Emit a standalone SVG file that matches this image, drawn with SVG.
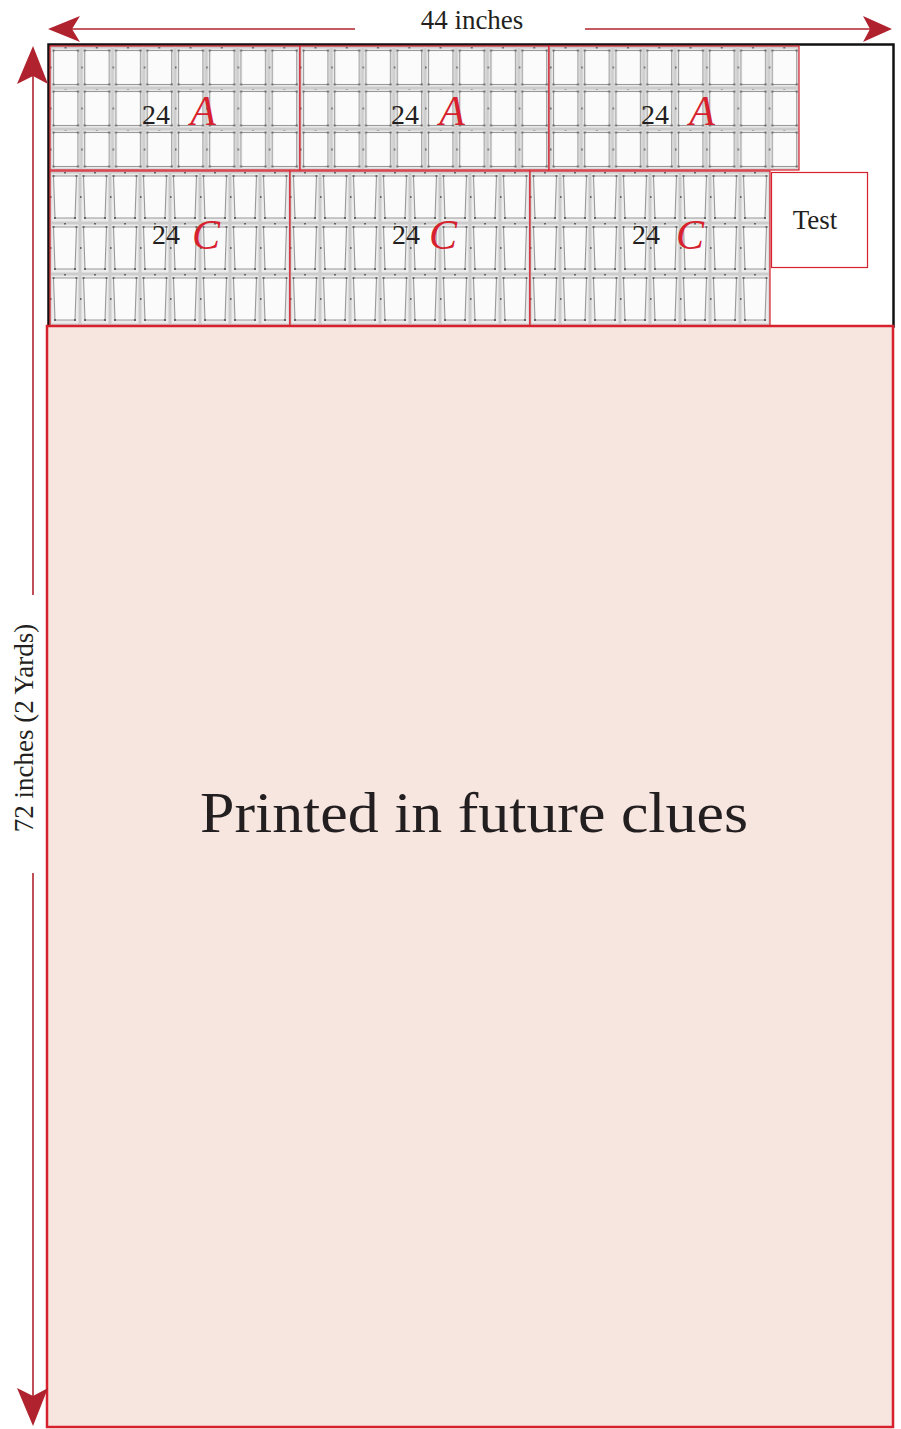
<svg xmlns="http://www.w3.org/2000/svg" width="901" height="1429" viewBox="0 0 901 1429">
<style>
.lbl{font-family:"Liberation Serif",serif;fill:#231f20}
.let{font-family:"Liberation Serif",serif;font-style:italic;fill:#d7212e}
.tile{stroke:#d7212e;stroke-width:1.2}
.dim{stroke:#b0232e;stroke-width:1.6;fill:none}
.head{fill:#b0232e}
</style>
<defs>
<pattern id="gridA" patternUnits="userSpaceOnUse" x="50" y="47" width="31.25" height="41">
<rect width="31.25" height="41" fill="#ececec"/>
<rect x="0.8" y="0.8" width="29.6" height="39.4" fill="none" stroke="#c4c4c4" stroke-width="1.2"/>
<rect x="3.5" y="3.5" width="24.5" height="34" fill="#fbfbfb" stroke="#999" stroke-width="1.1"/>
<g fill="#666"><rect x="2.5" y="2.5" width="2" height="2"/><rect x="27" y="2.5" width="2" height="2"/><rect x="2.5" y="36.5" width="2" height="2"/><rect x="27" y="36.5" width="2" height="2"/><rect x="14.5" y="0" width="2" height="1.5"/><rect x="0" y="19.5" width="1.5" height="2"/></g>
</pattern>
<pattern id="gridC" patternUnits="userSpaceOnUse" x="50" y="172" width="30" height="51">
<rect width="30" height="51" fill="#ececec"/>
<rect x="0.8" y="0.8" width="28.4" height="49.4" fill="none" stroke="#c4c4c4" stroke-width="1.2"/>
<polygon points="3.5,4 26.5,4 25,46 5,46" fill="#fbfbfb" stroke="#999" stroke-width="1.1"/>
<g fill="#666"><rect x="2.5" y="3" width="2" height="2"/><rect x="25.5" y="3" width="2" height="2"/><rect x="4" y="45" width="2" height="2"/><rect x="24" y="45" width="2" height="2"/><rect x="14" y="0" width="2" height="1.5"/><rect x="0" y="24" width="1.5" height="2"/></g>
</pattern>
</defs>

<g id="fabric">
<rect x="48.5" y="44.5" width="845" height="282" fill="#fff" stroke="#111" stroke-width="2.5"/>
</g>

<g id="tileA1"><rect class="tile" x="50" y="46" width="250" height="124" fill="url(#gridA)"/><text class="lbl" x="156" y="124" font-size="28" text-anchor="middle">24</text><text class="let" x="203" y="125" font-size="42" text-anchor="middle">A</text></g>
<g id="tileA2"><rect class="tile" x="300" y="46" width="249" height="124" fill="url(#gridA)"/><text class="lbl" x="405" y="124" font-size="28" text-anchor="middle">24</text><text class="let" x="452" y="125" font-size="42" text-anchor="middle">A</text></g>
<g id="tileA3"><rect class="tile" x="549" y="46" width="250" height="124" fill="url(#gridA)"/><text class="lbl" x="655" y="124" font-size="28" text-anchor="middle">24</text><text class="let" x="702" y="125" font-size="42" text-anchor="middle">A</text></g>

<g id="tileC1"><rect class="tile" x="50" y="171" width="240" height="155" fill="url(#gridC)"/><text class="lbl" x="166" y="244" font-size="28" text-anchor="middle">24</text><text class="let" x="206" y="249" font-size="42" text-anchor="middle">C</text></g>
<g id="tileC2"><rect class="tile" x="290" y="171" width="240" height="155" fill="url(#gridC)"/><text class="lbl" x="406" y="244" font-size="28" text-anchor="middle">24</text><text class="let" x="443" y="249" font-size="42" text-anchor="middle">C</text></g>
<g id="tileC3"><rect class="tile" x="530" y="171" width="240" height="155" fill="url(#gridC)"/><text class="lbl" x="646" y="244" font-size="28" text-anchor="middle">24</text><text class="let" x="690" y="249" font-size="42" text-anchor="middle">C</text></g>

<g id="test"><rect x="771.5" y="172.5" width="96" height="95" fill="#fff" stroke="#d7212e" stroke-width="1.2"/><text class="lbl" x="815" y="229" font-size="27" text-anchor="middle">Test</text></g>

<g id="future"><rect x="47" y="326" width="846" height="1101" fill="#f7e6df" stroke="#d7212e" stroke-width="2.5"/><text class="lbl" x="474" y="832" font-size="58" text-anchor="middle" textLength="548" lengthAdjust="spacingAndGlyphs">Printed in future clues</text></g>

<g id="connectors">
<line class="dim" x1="60" y1="29" x2="355" y2="29"/>
<line class="dim" x1="585" y1="29" x2="880" y2="29"/>
<polygon class="head" points="48,29 80,16 72,29 80,42"/>
<polygon class="head" points="892,29 863,16 870,29 863,42"/>
<line class="dim" x1="33" y1="60" x2="33" y2="595"/>
<line class="dim" x1="33" y1="873" x2="33" y2="1412"/>
<polygon class="head" points="33,46 17,84 33,76 48,84"/>
<polygon class="head" points="33,1426 17,1388 33,1396 48,1388"/>
</g>
<g id="labels">
<text class="lbl" x="472" y="29" font-size="27" text-anchor="middle">44 inches</text>
<text class="lbl" x="0" y="0" font-size="27" text-anchor="middle" transform="translate(33,728) rotate(-90)">72 inches (2 Yards)</text>
</g>
</svg>
